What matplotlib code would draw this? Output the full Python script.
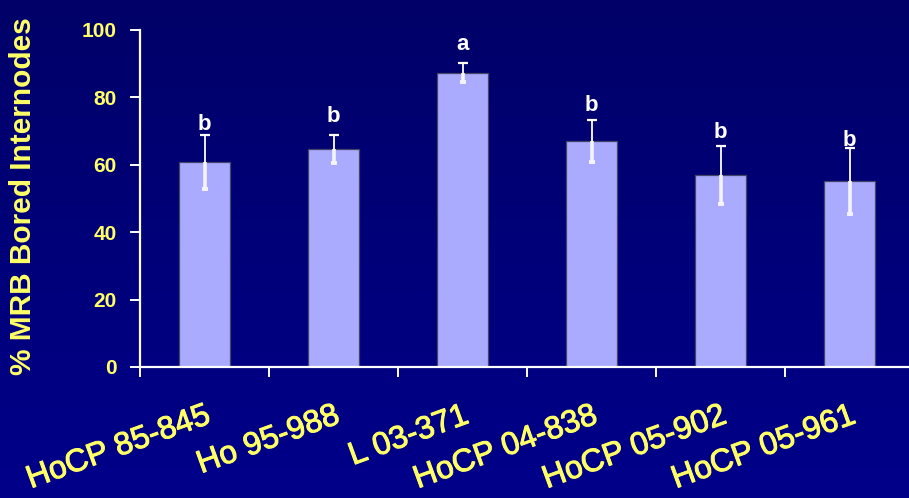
import numpy as np
import matplotlib
matplotlib.use("Agg")
import matplotlib.pyplot as plt
import matplotlib.patheffects as pe
from matplotlib.transforms import offset_copy

# Percent of internodes bored by Mexican rice borer, by sugarcane variety
varieties = ["HoCP 85-845", "Ho 95-988", "L 03-371", "HoCP 04-838", "HoCP 05-902", "HoCP 05-961"]
bored_pct = [60.7, 64.5, 87.2, 66.9, 56.9, 55.1]
std_err = [7.9, 4.2, 2.8, 6.2, 8.6, 9.7]
letters = ["b", "b", "a", "b", "b", "b"]
y_ticks = [0, 20, 40, 60, 80, 100]

# gap (points) between each whisker cap and its significance letter
letter_gap = [4.3, 9.1, 9.9, 6.5, 6.0, 2.0]

yellow = "#ffff66"
navy = "#000080"
bar_color = "#aaaaff"

plt.rcParams["font.family"] = ["Liberation Sans", "DejaVu Sans"]

W, H = 909, 498
fig = plt.figure(figsize=(W / 100, H / 100), dpi=100)

# soft vertical background gradient
bg = fig.add_axes([0, 0, 1, 1], zorder=-10)
grad = np.linspace(0, 1, 256).reshape(-1, 1)
cmap = matplotlib.colors.LinearSegmentedColormap.from_list("bg", ["#00008a", "#000068"])
bg.imshow(grad, aspect="auto", cmap=cmap, extent=[0, 1, 0, 1], origin="lower")
bg.set_axis_off()

ax = fig.add_axes([140 / W, 1 - 367 / H, 774 / W, 337.5 / H])
ax.set_facecolor("none")

x = np.arange(len(varieties))
vals = np.array(bored_pct)
errs = np.array(std_err)
ax.bar(x, vals, width=0.4, color=bar_color, edgecolor="#444466", linewidth=0.9, zorder=2)

# upper whisker: thin line with a small cap
ax.vlines(x, vals, vals + errs, color="white", linewidth=1.3, zorder=3)
ax.plot(x, vals + errs, linestyle="none", marker="_", markersize=7, markeredgewidth=1.6,
        color="white", zorder=3)
# lower whisker inside the bar: heavier stroke ending in a small block
ax.vlines(x, vals - errs, vals, color="#f4f4ff", linewidth=2.6, zorder=3)
ax.plot(x, vals - errs, linestyle="none", marker="_", markersize=5, markeredgewidth=2.8,
        color="#f4f4ff", zorder=3)

for xi, v, e, lab, gap in zip(x, vals, errs, letters, letter_gap):
    tr = offset_copy(ax.transData, fig=fig, x=0, y=gap, units="points")
    ax.text(xi, v + e, lab, ha="center", va="baseline", color="white",
            fontsize=16, fontweight="bold", transform=tr)

ax.set_xlim(-0.5, 5.5)
ax.set_ylim(0, 100)
ax.set_yticks(y_ticks)
ax.set_yticklabels([str(t) for t in y_ticks], color=yellow, fontsize=15, fontweight="bold")
ax.set_xticks(np.arange(-0.5, 5.6, 1.0))
ax.set_xticklabels([])

for xi, name in zip(x, varieties):
    ax.text(xi, -10, name, rotation=20, rotation_mode="anchor", ha="right", va="top",
            color=yellow, fontsize=23, clip_on=False,
            path_effects=[pe.withStroke(linewidth=0.7, foreground=yellow)])

fig.text(23 / W, 1 - 196 / H, "% MRB Bored Internodes", rotation=90, ha="center",
         va="center", color=yellow, fontsize=21.5, fontweight="bold")

for side in ["top", "right"]:
    ax.spines[side].set_visible(False)
for side in ["left", "bottom"]:
    ax.spines[side].set_color("white")
    ax.spines[side].set_linewidth(1.6)
ax.tick_params(axis="both", colors="white", width=1.4, length=7, direction="out")
ax.tick_params(axis="y", labelcolor=yellow, pad=10)

fig.savefig("out.png", dpi=100, facecolor=navy)
